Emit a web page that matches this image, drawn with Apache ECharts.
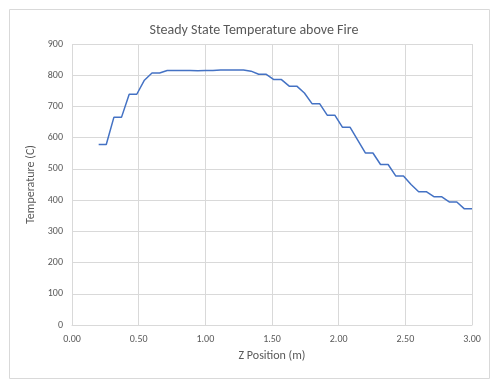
<!DOCTYPE html>
<html><head><meta charset="utf-8">
<script src="https://cdn.jsdelivr.net/npm/echarts@6/dist/echarts.min.js"></script>
<style>html,body{margin:0;padding:0;background:#fff}#c{width:500px;height:389px}</style>
</head><body><div id="c"></div>
<script>
var positions = [0.200,0.257,0.314,0.371,0.429,0.486,0.543,0.600,0.657,0.714,0.771,0.829,0.886,0.943,1.000,1.057,1.114,1.171,1.229,1.286,1.343,1.400,1.457,1.514,1.571,1.629,1.686,1.743,1.800,1.857,1.914,1.971,2.029,2.086,2.143,2.200,2.257,2.314,2.371,2.429,2.486,2.543,2.600,2.657,2.714,2.771,2.829,2.886,2.943,3.000];
var temperatures = [578,578,665,665,739,739,784,807,807,815,815,815,815,814,815,815,817,817,817,817,813,803,803,786,786,765,765,743,709,709,672,672,633,633,592,551,551,514,514,477,477,450,427,427,411,411,394,394,372,372];
var chartTitle = 'Steady State Temperature above Fire';
var xName = 'Z Position (m)';
var yName = 'Temperature (C)';
var font = 'Carlito, Calibri, "Open Sans", sans-serif';
var data = positions.map(function(p,i){return [p, temperatures[i]];});
var chart = echarts.init(document.getElementById('c'));
chart.setOption({
  animation:false,
  graphic:[{type:'rect',shape:{x:9.5,y:9.5,width:480,height:369},style:{fill:'none',stroke:'#d9d9d9',lineWidth:1},silent:true}],
  title:{text:chartTitle,left:249,top:18,textAlign:'center',textStyle:{fontFamily:font,fontSize:14,fontWeight:'normal',color:'#595959'}},
  grid:{left:72,right:28,top:44,bottom:64},
  xAxis:{type:'value',min:0,max:3,interval:0.5,name:xName,nameLocation:'middle',nameGap:25,
    nameTextStyle:{fontFamily:font,fontSize:12,color:'#595959'},
    axisLine:{show:true,lineStyle:{color:'#d9d9d9'}},axisTick:{show:false},
    axisLabel:{fontFamily:font,fontSize:10,color:'#595959',margin:9,formatter:function(v){return v.toFixed(2);}},
    splitLine:{show:true,lineStyle:{color:'#d9d9d9'}}},
  yAxis:{type:'value',min:0,max:900,interval:100,name:yName,nameLocation:'middle',nameGap:33,
    nameTextStyle:{fontFamily:font,fontSize:12,color:'#595959'},
    axisLine:{show:false},axisTick:{show:false},
    axisLabel:{fontFamily:font,fontSize:10,color:'#595959',margin:9},
    splitLine:{show:true,lineStyle:{color:'#d9d9d9'}}},
  series:[{type:'line',data:data,showSymbol:false,symbol:'none',lineStyle:{color:'#4472C4',width:1.5},itemStyle:{color:'#4472C4'}}]
});
</script></body></html>
